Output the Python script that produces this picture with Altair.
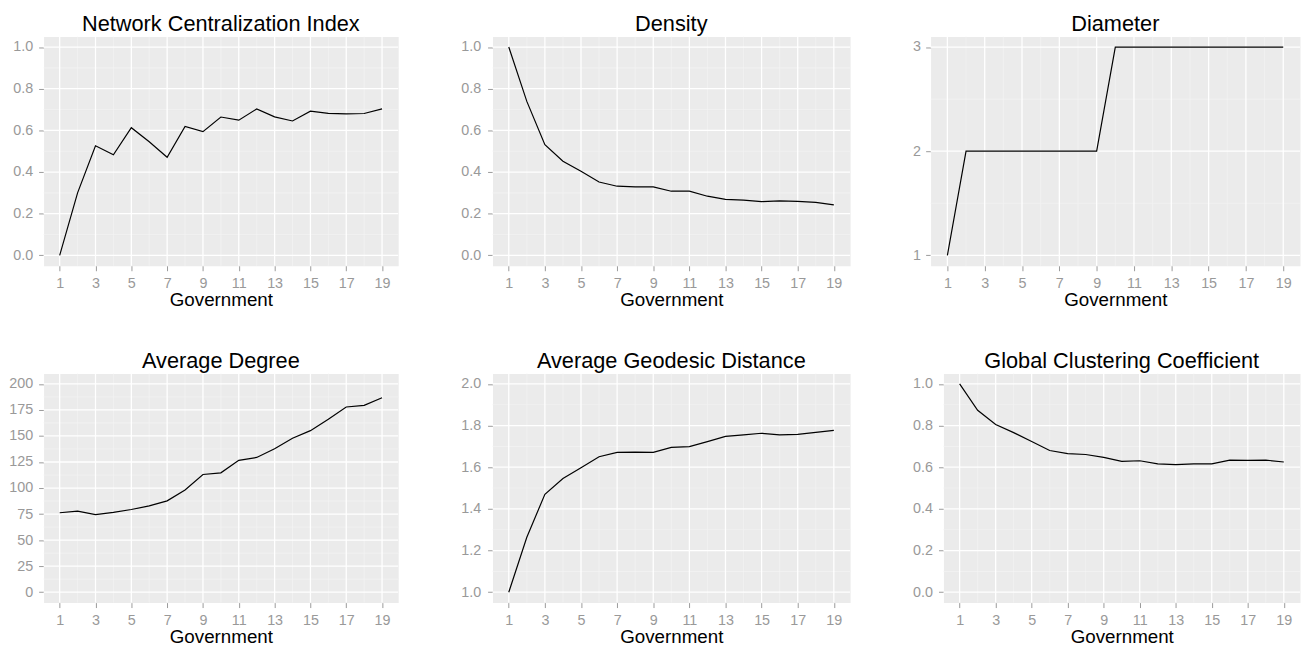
import altair as alt
import pandas as pd

government = list(range(1, 20))

centralization = [0.0, 0.30, 0.526, 0.483, 0.613, 0.545, 0.471, 0.619, 0.594, 0.664,
                  0.649, 0.703, 0.665, 0.645, 0.692, 0.682, 0.679, 0.681, 0.703]
density = [1.0, 0.739, 0.531, 0.452, 0.404, 0.352, 0.332, 0.329, 0.329, 0.308,
           0.308, 0.284, 0.269, 0.265, 0.258, 0.262, 0.259, 0.254, 0.242]
diameter = [1, 2, 2, 2, 2, 2, 2, 2, 2, 3, 3, 3, 3, 3, 3, 3, 3, 3, 3]
avg_degree = [76.3, 77.8, 74.4, 76.6, 79.4, 82.9, 87.7, 98.1, 113.0, 114.6,
              126.6, 129.4, 137.7, 147.8, 155.1, 166.0, 177.8, 179.4, 186.7]
geodesic = [1.0, 1.264, 1.470, 1.546, 1.597, 1.650, 1.671, 1.672, 1.671, 1.695,
            1.699, 1.723, 1.748, 1.755, 1.763, 1.755, 1.758, 1.767, 1.777]
clustering = [1.0, 0.873, 0.805, 0.766, 0.723, 0.680, 0.665, 0.661, 0.647, 0.628,
              0.631, 0.616, 0.612, 0.616, 0.616, 0.634, 0.633, 0.634, 0.625]

x_major = [1, 3, 5, 7, 9, 11, 13, 15, 17, 19]
x_minor = [2, 4, 6, 8, 10, 12, 14, 16, 18]
x_domain = [0.1, 19.9]

unit_major = [0.0, 0.2, 0.4, 0.6, 0.8, 1.0]
unit_minor = [0.1, 0.3, 0.5, 0.7, 0.9]
unit_domain = [-0.05, 1.05]

diam_major = [1, 2, 3]
diam_minor = [1.5, 2.5]
diam_domain = [0.9, 3.1]

deg_major = [0, 25, 50, 75, 100, 125, 150, 175, 200]
deg_minor = [12.5, 37.5, 62.5, 87.5, 112.5, 137.5, 162.5, 187.5]
deg_domain = [-10, 210]

geo_major = [1.0, 1.2, 1.4, 1.6, 1.8, 2.0]
geo_minor = [1.1, 1.3, 1.5, 1.7, 1.9]
geo_domain = [0.95, 2.05]

FONT = "Liberation Sans"
PANEL_BG = "#EBEBEB"
MINOR = "#F4F4F4"


def panel(title, values, ydomain, ymajor, yminor, yfmt, width, height, ypad):
    df = pd.DataFrame({"Government": government, "value": values})
    xscale = alt.Scale(domain=x_domain, nice=False, zero=False)
    yscale = alt.Scale(domain=ydomain, nice=False, zero=False)
    xaxis = alt.Axis(values=x_major, title="Government", format="d")
    yaxis = alt.Axis(values=ymajor, title=None, format=yfmt, labelPadding=ypad)

    vminor = alt.Chart(pd.DataFrame({"Government": x_minor})).mark_rule(
        color=MINOR, strokeWidth=0.7).encode(
        x=alt.X("Government:Q", scale=xscale, axis=xaxis))
    hminor = alt.Chart(pd.DataFrame({"value": yminor})).mark_rule(
        color=MINOR, strokeWidth=0.7).encode(
        y=alt.Y("value:Q", scale=yscale, axis=yaxis))
    vmajor = alt.Chart(pd.DataFrame({"Government": x_major})).mark_rule(
        color="white", strokeWidth=1.3).encode(
        x=alt.X("Government:Q", scale=xscale, axis=xaxis))
    hmajor = alt.Chart(pd.DataFrame({"value": ymajor})).mark_rule(
        color="white", strokeWidth=1.3).encode(
        y=alt.Y("value:Q", scale=yscale, axis=yaxis))
    line = alt.Chart(df).mark_line(color="black", strokeWidth=1.2).encode(
        x=alt.X("Government:Q", scale=xscale, axis=xaxis),
        y=alt.Y("value:Q", scale=yscale, axis=yaxis),
    )
    return alt.layer(vminor, hminor, vmajor, hmajor, line).properties(
        width=width, height=height,
        title=alt.TitleParams(title, frame="group", anchor="middle",
                              baseline="alphabetic", offset=-17))


p1 = panel("Network Centralization Index", centralization, unit_domain,
           unit_major, unit_minor, ".1f", 359, 232, 6)
p2 = panel("Density", density, unit_domain, unit_major, unit_minor, ".1f",
           362, 232, 7)
p3 = panel("Diameter", diameter, diam_domain, diam_major, diam_minor, "d",
           374, 232, 5.3)
p4 = panel("Average Degree", avg_degree, deg_domain, deg_major, deg_minor, "d",
           359, 232, 6)
p5 = panel("Average Geodesic Distance", geodesic, geo_domain, geo_major, geo_minor,
           ".1f", 362, 232, 7)
p6 = panel("Global Clustering Coefficient", clustering, unit_domain, unit_major,
           unit_minor, ".1f", 361, 232, 6.2)

chart = alt.concat(p1, p2, p3, p4, p5, p6, columns=3).properties(
    align="none",
    spacing={"column": 60.5, "row": 39},
    padding={"left": 0, "top": 0, "right": 0, "bottom": 0}
).configure_view(
    fill=PANEL_BG, stroke="transparent"
).configure_axis(
    grid=False, domain=False,
    labelFont=FONT, labelFontSize=14.5, labelColor="#999999",
    tickColor="#999999", tickSize=5, tickWidth=1,
    titleFont=FONT, titleFontSize=19, titleColor="#000000",
    titleFontWeight="normal", titlePadding=1,
).configure_axisX(
    labelPadding=6
).configure_title(
    font=FONT, fontSize=22, fontWeight="normal", color="#000000"
)

chart.save("out.html", embed_options={"renderer": "svg", "actions": False})
